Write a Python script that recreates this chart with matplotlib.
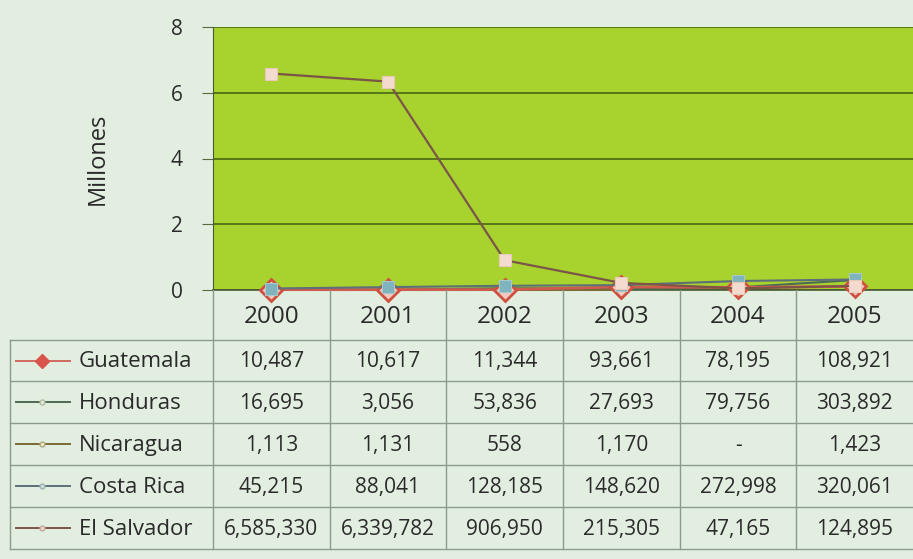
import numpy as np
import matplotlib
matplotlib.use("Agg")
import matplotlib.pyplot as plt

plt.rcParams['font.family'] = ['Open Sans', 'DejaVu Sans']

years = ["2000", "2001", "2002", "2003", "2004", "2005"]
countries = ["Guatemala", "Honduras", "Nicaragua", "Costa Rica", "El Salvador"]
guatemala = [10487, 10617, 11344, 93661, 78195, 108921]
honduras = [16695, 3056, 53836, 27693, 79756, 303892]
nicaragua = [1113, 1131, 558, 1170, np.nan, 1423]
costa_rica = [45215, 88041, 128185, 148620, 272998, 320061]
el_salvador = [6585330, 6339782, 906950, 215305, 47165, 124895]
series = [guatemala, honduras, nicaragua, costa_rica, el_salvador]

styles = [
    dict(color="#cf5a4e", marker="D", ms=11, mfc="#f2c9bf", mec="#d0503f", mew=2.0, lw=2.0),
    dict(color="#4d6a55", marker="o", ms=3, mfc="#dfe8c8", mec="#9aa88a", mew=0.5, lw=1.5),
    dict(color="#7a6a35", marker="o", ms=3, mfc="#e8e2c0", mec="#a89a70", mew=0.5, lw=1.5),
    dict(color="#5d6f78", marker="s", ms=8, mfc="#7fb3bd", mec="#a8c8cc", mew=0.8, lw=1.5),
    dict(color="#7a5548", marker="s", ms=8, mfc="#f3dccf", mec="#e8c8b8", mew=0.8, lw=1.6),
]
legend_styles = [
    dict(color="#d06a60", marker="D", ms=7, mfc="#d9544a", mec="#d9544a", lw=1.4),
    dict(color="#4d6a55", marker="o", ms=3.5, mfc="#e8eed8", mec="#b0b8a0", lw=1.4),
    dict(color="#7a6a35", marker="o", ms=3.5, mfc="#ece6c8", mec="#b0a880", lw=1.4),
    dict(color="#5d6f78", marker="o", ms=3.5, mfc="#c8dadc", mec="#a0b4b8", lw=1.4),
    dict(color="#7a5548", marker="o", ms=3.5, mfc="#f0d8cc", mec="#c8a8a0", lw=1.4),
]

W, H = 913, 559
fig = plt.figure(figsize=(W / 100, H / 100), dpi=100)
fig.patch.set_facecolor("#e2eee0")

# main chart axes
x0, x1, ytop, ybot = 213, 913, 27, 290
ax = fig.add_axes([x0 / W, 1 - ybot / H, (x1 - x0) / W, (ybot - ytop) / H])
ax.set_facecolor("#a8d22e")
xs = np.arange(len(years))
order = [4, 1, 2, 0, 3]
for i in order:
    vals = np.array(series[i], dtype=float) / 1e6
    ax.plot(xs, vals, zorder=3 + (2 if i == 4 else 0), clip_on=False, **styles[i])
ax.set_xlim(-0.5, 5.5)
ax.set_ylim(0, 8)
ax.set_yticks([0, 2, 4, 6, 8])
ax.set_yticklabels(["0", "2", "4", "6", "8"], fontsize=15, color="#2a2a2a")
ax.yaxis.grid(True, color="#3f5f10", lw=1.1)
ax.set_xticks([])
for s in ["top", "right"]:
    ax.spines[s].set_visible(False)
ax.spines["left"].set_color("#4a5a30")
ax.spines["bottom"].set_color("#4a5a30")
ax.spines["bottom"].set_linewidth(1.2)
ax.tick_params(axis="y", length=8, color="#5a6a40", pad=14)
ax.set_ylabel("Millones", fontsize=17, color="#2a2a2a", labelpad=44)

# table axes (pixel coordinates)
tax = fig.add_axes([0, 0, 1, 1 - ybot / H])
tax.set_xlim(0, W)
tax.set_ylim(H, ybot)
tax.axis("off")
lc = "#8c9a8c"
colw = (x1 - x0) / len(years)
col_edges = [x0 + colw * k for k in range(len(years) + 1)]
row_edges = [340, 381, 423, 465, 507, 549]
for ce in col_edges[:-1]:
    tax.plot([ce, ce], [ybot, row_edges[-1]], color=lc, lw=1.0)
tax.plot([10, 10], [row_edges[0], row_edges[-1]], color=lc, lw=1.0)
for re in row_edges:
    tax.plot([10, W], [re, re], color=lc, lw=1.0)

for j, yr in enumerate(years):
    tax.text(x0 + colw * (j + 0.5), (ybot + row_edges[0]) / 2 + 2, yr,
             ha="center", va="center", fontsize=17.5, color="#2a2a2a")

for i, (name, vals) in enumerate(zip(countries, series)):
    yc = (row_edges[i] + row_edges[i + 1]) / 2
    tax.plot([16, 42, 70], [yc, yc, yc], markevery=[1], **legend_styles[i])
    tax.text(79, yc + 1, name, ha="left", va="center", fontsize=16, color="#2a2a2a")
    for j, v in enumerate(vals):
        txt = "-" if np.isnan(v) else f"{int(v):,}"
        tax.text(x0 + colw * (j + 0.5), yc + 1, txt, ha="center", va="center",
                 fontsize=15, color="#2a2a2a")

fig.savefig("out.png", dpi=100, facecolor=fig.get_facecolor())
